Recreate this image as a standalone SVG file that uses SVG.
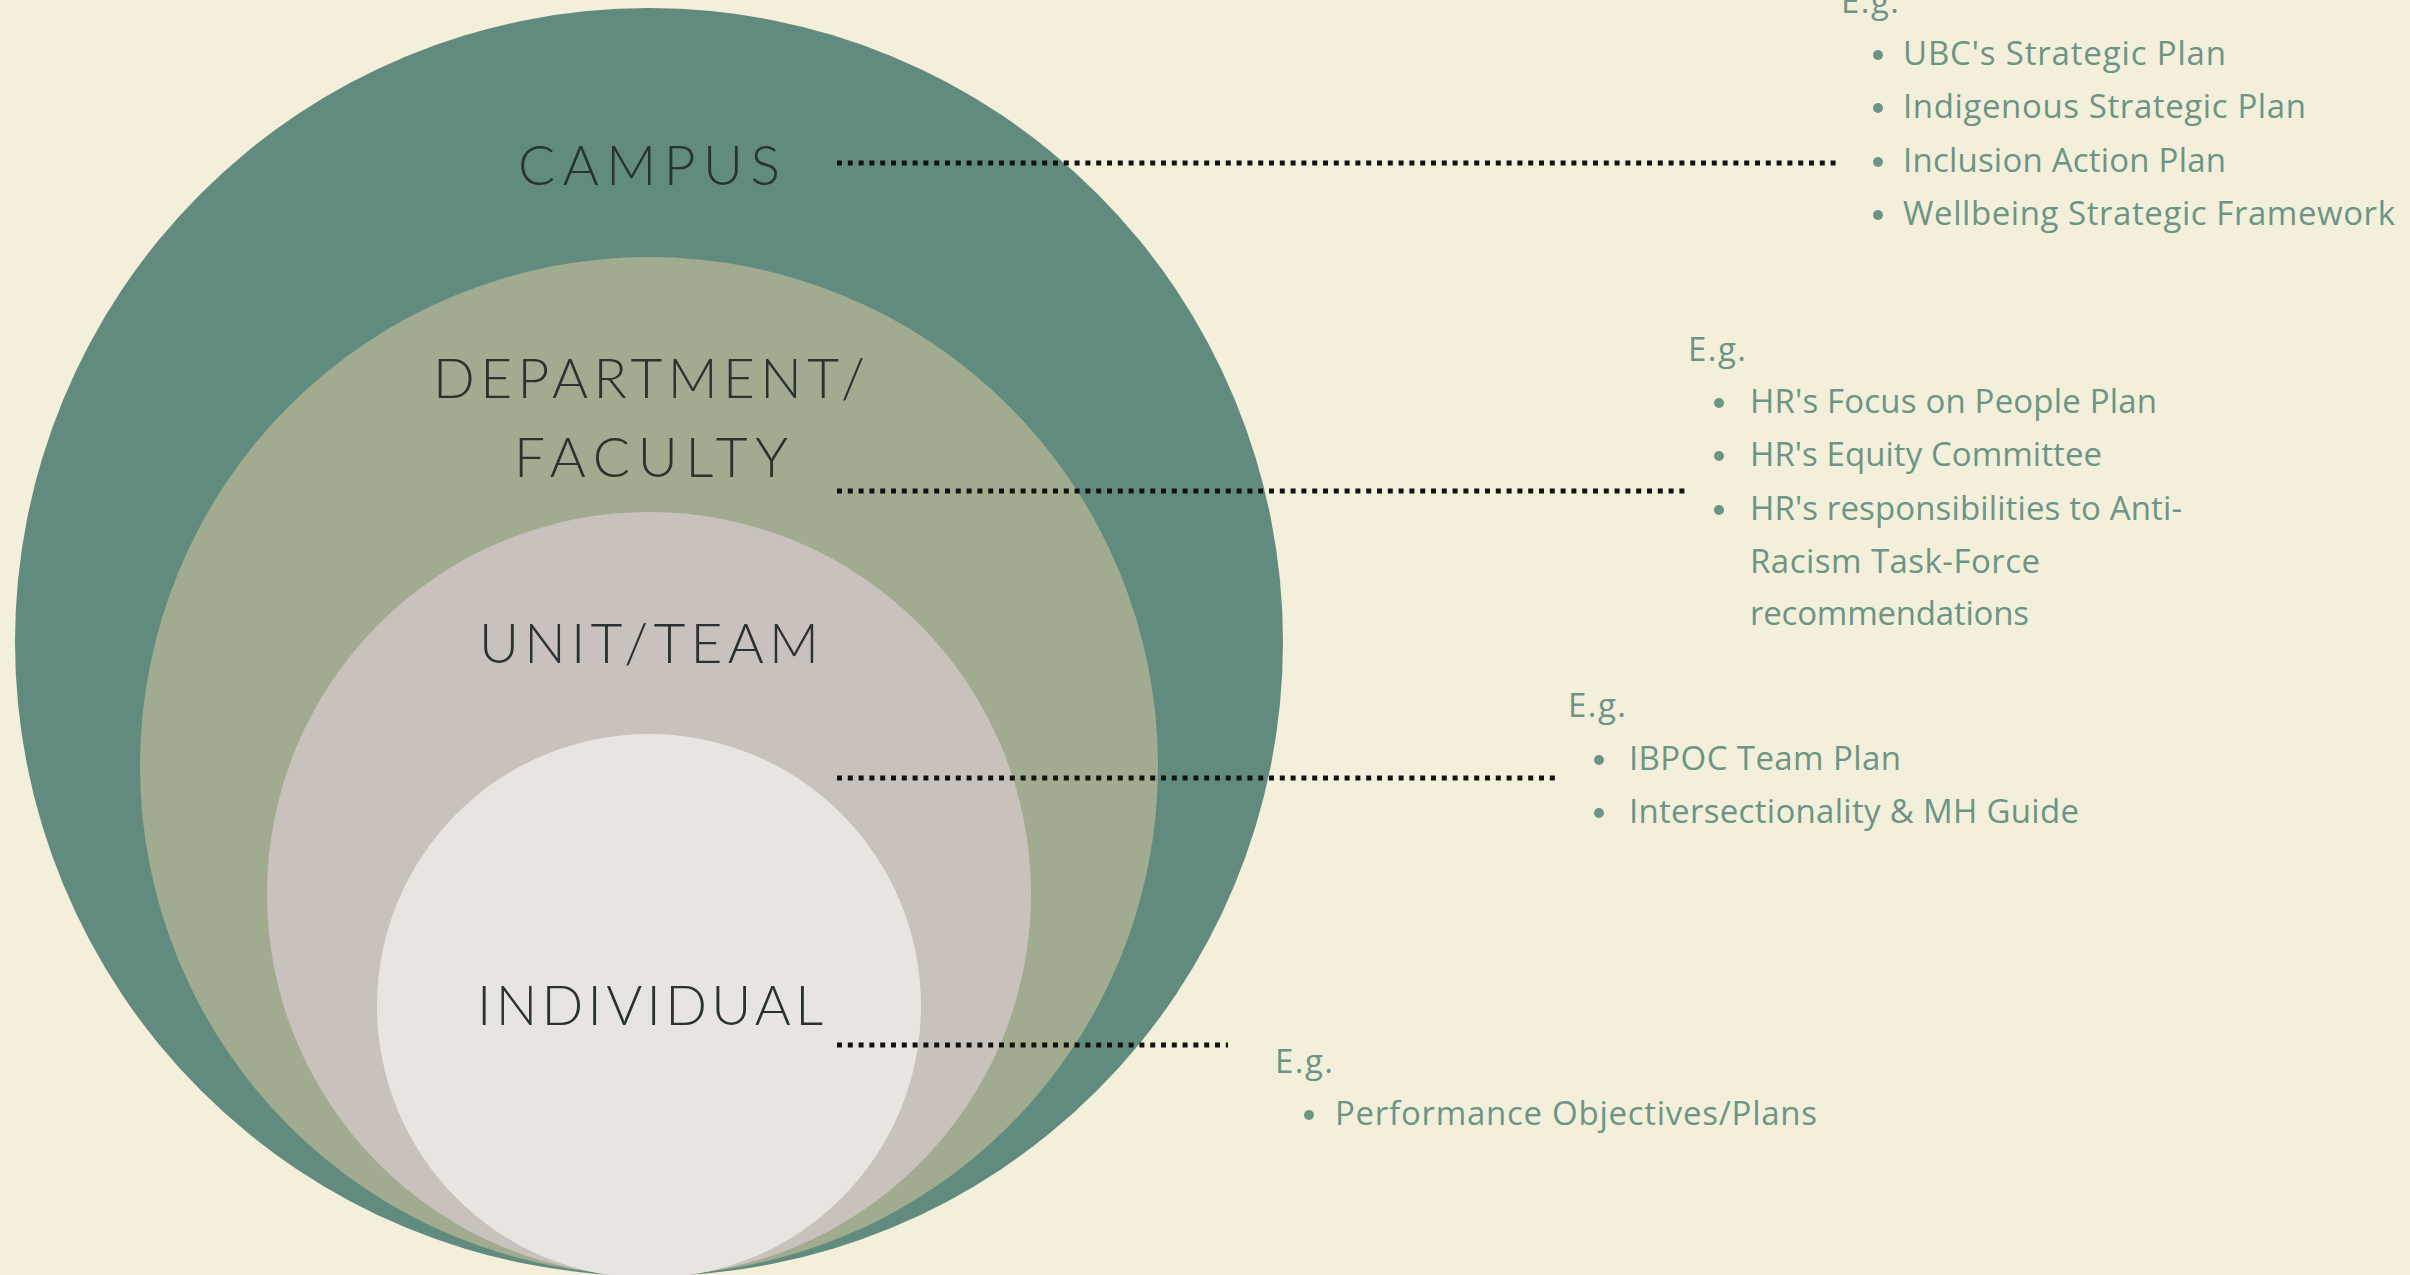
<svg xmlns="http://www.w3.org/2000/svg" width="2410" height="1275" viewBox="0 0 2410 1275">
  <style>
    .lvl { font-family: Lato, "Liberation Sans", sans-serif; font-weight: 300; font-size: 55px; fill: #2b3232; text-anchor: middle; }
    .eg { font-family: "Open Sans", "Liberation Sans", sans-serif; font-size: 33px; fill: #6b9584; }
    .dot { fill: #6b9584; }
    .leader { stroke: #121212; stroke-width: 5; stroke-dasharray: 5 5.8; fill: none; }
  </style>
  <rect width="2410" height="1275" fill="#f4efdb"/>

  <!-- nested circles, each level inside the one above -->
  <g id="campus">
    <circle cx="649" cy="642" r="634" fill="#618b7e"/>
  </g>
  <g id="department">
    <circle cx="649" cy="766" r="509" fill="#a0ab8f"/>
  </g>
  <g id="unit">
    <circle cx="649" cy="894" r="382" fill="#c9c2bc"/>
  </g>
  <g id="individual">
    <circle cx="649" cy="1006" r="272" fill="#e8e5e0"/>
  </g>

  <!-- level names -->
  <g id="labels">
    <text class="lvl" x="649" y="185" textLength="262">CAMPUS</text>
    <text class="lvl" x="649" y="398" textLength="432">DEPARTMENT/</text>
    <text class="lvl" x="651" y="477" textLength="274">FACULTY</text>
    <text class="lvl" x="649" y="663" textLength="340">UNIT/TEAM</text>
    <text class="lvl" x="650" y="1025" textLength="346">INDIVIDUAL</text>
  </g>

  <!-- dotted leaders to the example lists -->
  <g id="connectors">
    <line class="leader" x1="837" y1="163" x2="1841" y2="163"/>
    <line class="leader" x1="837" y1="491" x2="1686" y2="491"/>
    <line class="leader" x1="837" y1="778" x2="1559" y2="778"/>
    <line class="leader" x1="837" y1="1045" x2="1228" y2="1045"/>
  </g>

  <!-- campus examples -->
  <g id="campus-examples">
    <text class="eg" x="1841" y="13" textLength="58">E.g.</text>
    <circle class="dot" cx="1878" cy="55" r="5"/>
    <text class="eg" x="1903" y="65" textLength="323">UBC's Strategic Plan</text>
    <circle class="dot" cx="1878" cy="108" r="5"/>
    <text class="eg" x="1903" y="118" textLength="403">Indigenous Strategic Plan</text>
    <circle class="dot" cx="1878" cy="162" r="5"/>
    <text class="eg" x="1903" y="172" textLength="323">Inclusion Action Plan</text>
    <circle class="dot" cx="1878" cy="215" r="5"/>
    <text class="eg" x="1903" y="225" textLength="492">Wellbeing Strategic Framework</text>
  </g>

  <!-- department / faculty examples -->
  <g id="department-examples">
    <text class="eg" x="1688" y="361" textLength="58">E.g.</text>
    <circle class="dot" cx="1719" cy="403" r="5"/>
    <text class="eg" x="1750" y="413" textLength="407">HR's Focus on People Plan</text>
    <circle class="dot" cx="1719" cy="456" r="5"/>
    <text class="eg" x="1750" y="466" textLength="352">HR's Equity Committee</text>
    <circle class="dot" cx="1719" cy="510" r="5"/>
    <text class="eg" x="1750" y="520" textLength="432">HR's responsibilities to Anti-</text>
    <text class="eg" x="1750" y="573" textLength="290">Racism Task-Force</text>
    <text class="eg" x="1750" y="625" textLength="279">recommendations</text>
  </g>

  <!-- unit / team examples -->
  <g id="unit-examples">
    <text class="eg" x="1568" y="717" textLength="58">E.g.</text>
    <circle class="dot" cx="1599" cy="760" r="5"/>
    <text class="eg" x="1629" y="770" textLength="272">IBPOC Team Plan</text>
    <circle class="dot" cx="1599" cy="813" r="5"/>
    <text class="eg" x="1629" y="823" textLength="450">Intersectionality &amp; MH Guide</text>
  </g>

  <!-- individual examples -->
  <g id="individual-examples">
    <text class="eg" x="1275" y="1073" textLength="58">E.g.</text>
    <circle class="dot" cx="1309" cy="1115" r="5"/>
    <text class="eg" x="1335" y="1125" textLength="482">Performance Objectives/Plans</text>
  </g>
</svg>
